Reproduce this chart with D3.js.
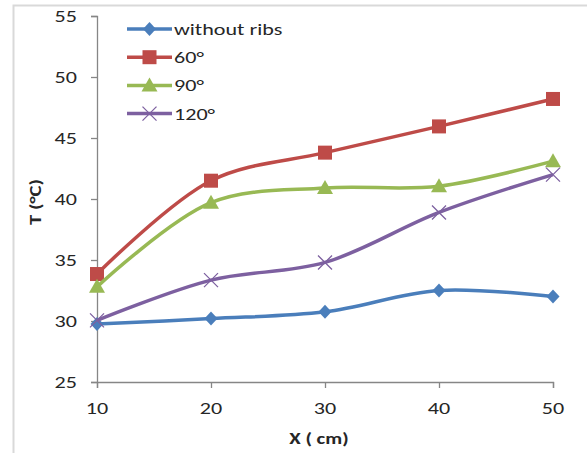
<!DOCTYPE html>
<html>
<head>
<meta charset="utf-8">
<script src="https://cdn.jsdelivr.net/npm/d3@7"></script>
<style>
  body { margin: 0; background: #fff; }
  text { font-family: Carlito, Calibri, "Liberation Sans", Arial, sans-serif; fill: #262626; }
</style>
</head>
<body>
<div id="chart"></div>
<script>
// Data
var xValues = [10, 20, 30, 40, 50];
var withoutRibs = [29.75, 30.2, 30.75, 32.5, 32.0];
var deg60 = [33.85, 41.5, 43.8, 45.95, 48.2];
var deg90 = [32.8, 39.7, 40.9, 41.05, 43.1];
var deg120 = [30.05, 33.35, 34.8, 38.9, 42.0];
var seriesNames = ["without ribs", "60°", "90°", "120°"];
var yTicks = [25, 30, 35, 40, 45, 50, 55];

var width = 587, height = 453;
var colors = ["#4a7ebb", "#be4b48", "#98b954", "#7d60a0"];
var markers = ["diamond", "square", "triangle", "cross"];
var stretch = 1.3; // the reference text is drawn wide

var svg = d3.select("#chart").append("svg")
    .attr("width", width)
    .attr("height", height);

// light frame around the chart area
svg.append("rect")
    .attr("x", 13.5).attr("y", 5.5)
    .attr("width", 600).attr("height", 470)
    .style("fill", "none")
    .style("stroke", "#d9d9d9")
    .style("stroke-width", 2);

var x = d3.scaleLinear().domain([10, 50]).range([97, 553]);
var y = d3.scaleLinear().domain([25, 55]).range([382, 16]);

// axes (labels drawn separately so they can be widened)
var xAxis = svg.append("g")
    .attr("transform", "translate(0," + y(25) + ")")
    .call(d3.axisBottom(x).tickValues(xValues).tickSize(6).tickFormat(""));
var yAxis = svg.append("g")
    .attr("transform", "translate(" + x(10) + ",0)")
    .call(d3.axisLeft(y).tickValues(yTicks).tickSize(6).tickFormat(""));

[xAxis, yAxis].forEach(function (g) {
    g.select(".domain").style("stroke", "#868686").style("stroke-width", 1.3);
    g.selectAll(".tick line").style("stroke", "#868686").style("stroke-width", 1.3);
});

// tick labels
svg.selectAll(".xlab")
    .data(xValues)
    .enter().append("text")
    .attr("class", "xlab")
    .attr("transform", function (d) { return "translate(" + x(d) + ",414) scale(" + stretch + ",1)"; })
    .attr("text-anchor", "middle")
    .style("font-size", "17px")
    .text(function (d) { return d; });

svg.selectAll(".ylab")
    .data(yTicks)
    .enter().append("text")
    .attr("class", "ylab")
    .attr("transform", function (d) { return "translate(77," + (y(d) + 6) + ") scale(" + stretch + ",1)"; })
    .attr("text-anchor", "end")
    .style("font-size", "17px")
    .text(function (d) { return d; });

// axis titles
svg.append("text")
    .attr("transform", "translate(" + (x(30) - 6) + ",444) scale(" + stretch + ",1)")
    .attr("text-anchor", "middle")
    .style("font-size", "16px")
    .style("font-weight", "bold")
    .text("X ( cm)");

svg.append("text")
    .attr("transform", "translate(41,202) rotate(-90) scale(" + stretch + ",1)")
    .attr("text-anchor", "middle")
    .style("font-size", "16px")
    .style("font-weight", "bold")
    .text("T (°C)");

var allSeries = [withoutRibs, deg60, deg90, deg120];

var line = d3.line()
    .x(function (d, i) { return x(xValues[i]); })
    .y(function (d) { return y(d); })
    .curve(d3.curveCatmullRom.alpha(0.5));

function drawMarker(g, type, color) {
    if (type === "diamond") {
        g.append("path").attr("d", "M0,-7L6.5,0L0,7L-6.5,0Z").style("fill", color);
    } else if (type === "square") {
        g.append("rect").attr("x", -7).attr("y", -7).attr("width", 14).attr("height", 14).style("fill", color);
    } else if (type === "triangle") {
        g.append("path").attr("d", "M0,-8L8,6L-8,6Z").style("fill", color);
    } else {
        g.append("path").attr("d", "M-7,-7L7,7M-7,7L7,-7")
            .style("stroke", color).style("stroke-width", 1.3).style("fill", "none");
    }
}

allSeries.forEach(function (vals, s) {
    svg.append("path")
        .datum(vals)
        .attr("d", line)
        .style("fill", "none")
        .style("stroke", colors[s])
        .style("stroke-width", 3.5);

    vals.forEach(function (v, i) {
        var g = svg.append("g")
            .attr("transform", "translate(" + x(xValues[i]) + "," + y(v) + ")");
        drawMarker(g, markers[s], colors[s]);
    });
});

// legend
var legend = svg.append("g");
seriesNames.forEach(function (name, s) {
    var ly = 29 + s * 28.2;
    legend.append("line")
        .attr("x1", 127).attr("x2", 172)
        .attr("y1", ly).attr("y2", ly)
        .style("stroke", colors[s])
        .style("stroke-width", 3.5);
    var g = legend.append("g").attr("transform", "translate(149.5," + ly + ")");
    drawMarker(g, markers[s], colors[s]);
    legend.append("text")
        .attr("transform", "translate(174," + (ly + 6) + ") scale(" + stretch + ",1)")
        .style("font-size", "17px")
        .text(name);
});
</script>
</body>
</html>
